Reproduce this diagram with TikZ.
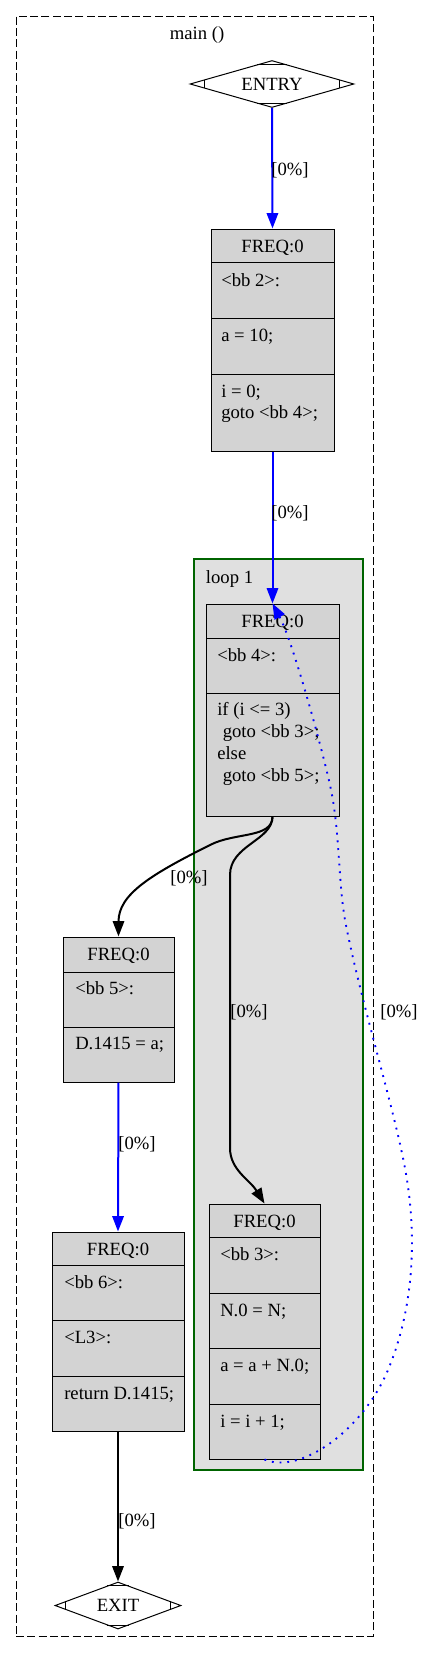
\documentclass[tikz,border=0pt]{standalone}
\usepackage{fontspec}
\setmainfont{Liberation Serif}
\usetikzlibrary{shapes.geometric,arrows.meta,calc}
\definecolor{boxfill}{HTML}{D3D3D3}
\definecolor{loopfill}{HTML}{E0E0E0}
\definecolor{loopgreen}{HTML}{006400}
\definecolor{edgeblue}{HTML}{0000FF}
\begin{document}
\begin{tikzpicture}[x=0.75pt,y=-0.75pt,
  font=\fontsize{14pt}{17pt}\selectfont,
  bbbox/.style={draw=black, fill=boxfill, line width=0.75pt, inner sep=0pt},
  divider/.style={draw=black, line width=0.75pt},
  txt/.style={anchor=west, inner sep=0pt, text height=11pt, text depth=2pt},
  head/.style={inner sep=0pt, text height=11pt, text depth=2pt},
  lbl/.style={inner sep=0pt, text height=11pt, text depth=2pt},
  tip/.style={-{Triangle[length=11.5pt,width=8.5pt]}},
  blueedge/.style={tip, draw=edgeblue, line width=1.5pt},
  blackedge/.style={tip, draw=black, line width=1.5pt},
  dottededge/.style={tip, draw=edgeblue, line width=1.4pt, dash pattern=on 1.4pt off 4.4pt},
  mdiam/.style={diamond, draw=black, line width=0.75pt, aspect=3.5, inner sep=0pt},
  cut/.style={draw=black, line width=0.75pt},
]
\useasboundingbox (0,0) rectangle (423,1656);

% outer graph frame
\node[draw=black, line width=0.75pt, dash pattern=on 6pt off 2.5pt, inner sep=0pt,
      minimum width={357*0.75pt}, minimum height={1620*0.75pt}] (main) at (194.5,826) {};
\node[lbl] (mainlbl) at (197,33) {main ()};

% loop cluster
\node[draw=loopgreen, fill=loopfill, line width=1.5pt, inner sep=0pt,
      minimum width={169*0.75pt}, minimum height={911*0.75pt}] (loop) at (278.5,1014.5) {};
\node[lbl] (looplbl) at (229.5,577) {loop 1};

% ENTRY
\node[mdiam, minimum width={164*0.75pt}, minimum height={47*0.75pt}] (entry) at (272,84) {ENTRY};
\foreach \a/\b/\c in {west/north/south, east/north/south, north/west/east, south/west/east}
  \draw[cut] ($(entry.\a)!0.18!(entry.\b)$) -- ($(entry.\a)!0.18!(entry.\c)$);

% bb 2
\node[bbbox, minimum width={123*0.75pt}, minimum height={222*0.75pt}] (bb2) at (272.5,340) {};
\draw[divider] (211,262) -- (334,262);
\draw[divider] (211,318) -- (334,318);
\draw[divider] (211,374) -- (334,374);
\node[head] (bb2h) at (272.5,246) {FREQ:0};
\node[txt] (bb2a) at (221,280) {<bb 2>:};
\node[txt] (bb2b) at (221,335) {a = 10;};
\node[txt] (bb2c) at (221,391) {i = 0;};
\node[txt] (bb2d) at (221,412) {goto <bb 4>;};

% bb 4
\node[bbbox, minimum width={133*0.75pt}, minimum height={212*0.75pt}] (bb4) at (272.5,710) {};
\draw[divider] (206,638) -- (339,638);
\draw[divider] (206,693) -- (339,693);
\node[head] (bb4h) at (272.5,621) {FREQ:0};
\node[txt] (bb4a) at (217,655) {<bb 4>:};
\node[txt] (bb4b) at (217,709) {if (i <= 3)};
\node[txt] (bb4c) at (222.5,731) {goto <bb 3>;};
\node[txt] (bb4d) at (217,753) {else};
\node[txt] (bb4e) at (222.5,775) {goto <bb 5>;};

% bb 5
\node[bbbox, minimum width={111*0.75pt}, minimum height={145*0.75pt}] (bb5) at (118.5,1009.5) {};
\draw[divider] (63,972) -- (174,972);
\draw[divider] (63,1027) -- (174,1027);
\node[head] (bb5h) at (118.5,954) {FREQ:0};
\node[txt] (bb5a) at (75,988) {<bb 5>:};
\node[txt] (bb5b) at (75,1043) {D.1415 = a;};

% bb 3
\node[bbbox, minimum width={111*0.75pt}, minimum height={255*0.75pt}] (bb3) at (264.5,1331.5) {};
\draw[divider] (209,1237) -- (320,1237);
\draw[divider] (209,1293) -- (320,1293);
\draw[divider] (209,1348) -- (320,1348);
\draw[divider] (209,1404) -- (320,1404);
\node[head] (bb3h) at (264.5,1221) {FREQ:0};
\node[txt] (bb3a) at (220,1254) {<bb 3>:};
\node[txt] (bb3b) at (220,1310) {N.0 = N;};
\node[txt] (bb3c) at (220,1365) {a = a + N.0;};
\node[txt] (bb3d) at (220,1421) {i = i + 1;};

% bb 6
\node[bbbox, minimum width={132*0.75pt}, minimum height={199*0.75pt}] (bb6) at (118,1331.5) {};
\draw[divider] (52,1265) -- (184,1265);
\draw[divider] (52,1320) -- (184,1320);
\draw[divider] (52,1376) -- (184,1376);
\node[head] (bb6h) at (118,1249) {FREQ:0};
\node[txt] (bb6a) at (64,1282) {<bb 6>:};
\node[txt] (bb6b) at (64,1337) {<L3>:};
\node[txt] (bb6c) at (64,1393) {return D.1415;};

% EXIT
\node[mdiam, minimum width={126*0.75pt}, minimum height={47*0.75pt}] (exit) at (118,1605.5) {EXIT};
\foreach \a/\b/\c in {west/north/south, east/north/south, north/west/east, south/west/east}
  \draw[cut] ($(exit.\a)!0.18!(exit.\b)$) -- ($(exit.\a)!0.18!(exit.\c)$);

% edges
\draw[blueedge] (entry.south) -- (bb2.north);
\node[lbl] (l1) at (290,169) {[0\%]};

\draw[blueedge] (bb2.south) -- (bb4.north);
\node[lbl] (l2) at (290,512) {[0\%]};

\draw[blackedge] (bb4.south) .. controls +(0,22) and (235,832) .. (210,845)
  .. controls (150,875) and ($(bb5.north)+(0,-42)$) .. (bb5.north);
\node[lbl] (l3) at (189,877) {[0\%]};

\draw[blackedge] (bb4.south) .. controls +(0,24) and (230,845) .. (230,875)
  -- (230,1148) .. controls (230,1170) and (250,1180) .. (bb3.north);
\node[lbl] (l4) at (249,1011) {[0\%]};

\draw[dottededge] (bb3.south) .. controls (300,1475) and (365,1430) .. (390,1365)
  .. controls (410,1315) and (418,1250) .. (407,1180)
  .. controls (398,1120) and (360,1000) .. (345,920)
  .. controls (338,880) and (340,830) .. (330,785)
  .. controls (320,740) and (292,640) .. (bb4.north);
\node[lbl] (l5) at (399,1011) {[0\%]};

\draw[blueedge] (bb5.south) -- (bb6.north);
\node[lbl] (l6) at (137,1143) {[0\%]};

\draw[blackedge] (bb6.south) -- (exit.north);
\node[lbl] (l7) at (137,1520) {[0\%]};
\end{tikzpicture}
\end{document}
